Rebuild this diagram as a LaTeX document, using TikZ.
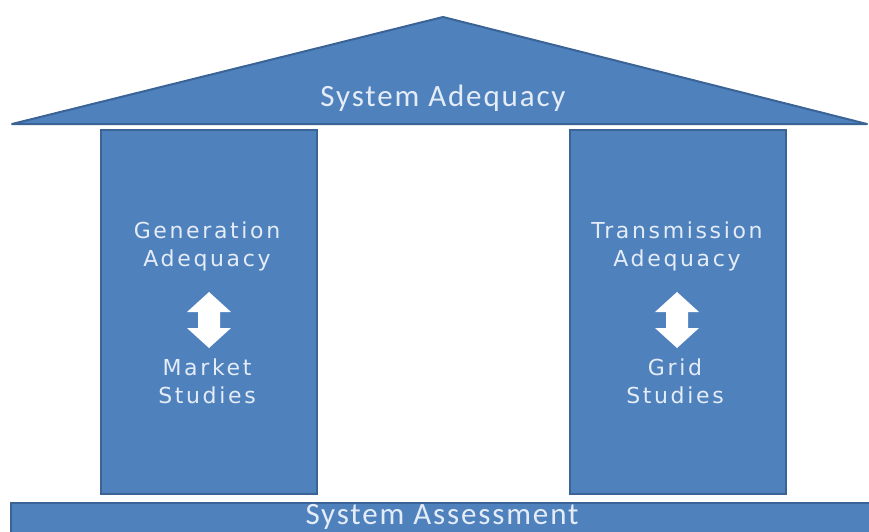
\documentclass[tikz,border=0pt]{standalone}
\usepackage{fontspec}
\setmainfont{DejaVu Sans}
\newfontfamily\roofFont[LetterSpace=6]{Carlito}
\newfontfamily\pillarFont[LetterSpace=12]{DejaVu Sans}
\usetikzlibrary{positioning}
\definecolor{cFill}{HTML}{4F81BD}
\definecolor{cEdge}{HTML}{3A6396}
\definecolor{cText}{HTML}{E4ECF7}

\begin{document}
\begin{tikzpicture}[
  x=1pt, y=-1pt,
  block/.style={rectangle, draw=cEdge, line width=2pt, fill=cFill, inner sep=0pt},
  pillar/.style={block, minimum width=216pt, minimum height=364pt},
  roofLabel/.style={font=\roofFont\fontsize{31}{32}\selectfont, text=cText},
  pillarLabel/.style={font=\pillarFont\fontsize{22}{28}\selectfont, text=cText, align=center},
  updown/.pic={
    \fill[white] (0,-28) -- (22,-8) -- (11,-8) -- (11,8) -- (22,8) -- (0,28)
      -- (-22,8) -- (-11,8) -- (-11,-8) -- (-22,-8) -- cycle;
  },
]
\useasboundingbox (0,0) rectangle (869,532);

% ---------- Roof ----------
\coordinate (apex) at (443,17);
\coordinate (eaveL) at (12,124);
\coordinate (eaveR) at (867,124);
\draw[fill=cFill, draw=cEdge, line width=2pt, line join=round] (eaveL) -- (apex) -- (eaveR) -- cycle;
\node[roofLabel] (roof) at (443,98) {System Adequacy};

% ---------- Pillars ----------
\node[pillar] (genP) at (209,312) {};
\node[pillar] (trnP) at (678,312) {};

\node[pillarLabel] (genTop) at (207,246) {Generation\\Adequacy};
\pic at (209,320) {updown};
\node[pillarLabel] (genBot) at (207,381) {Market\\Studies};

\node[pillarLabel] (trnTop) at (677,246) {Transmission\\Adequacy};
\pic at (677,320) {updown};
\node[pillarLabel] (trnBot) at (675,381) {Grid\\Studies};

% ---------- Foundation ----------
\node[block, minimum width=860pt, minimum height=40pt] (base) at (441,523) {};
\node[roofLabel] (baseLabel) at (442,517) {System Assessment};

\end{tikzpicture}
\end{document}
